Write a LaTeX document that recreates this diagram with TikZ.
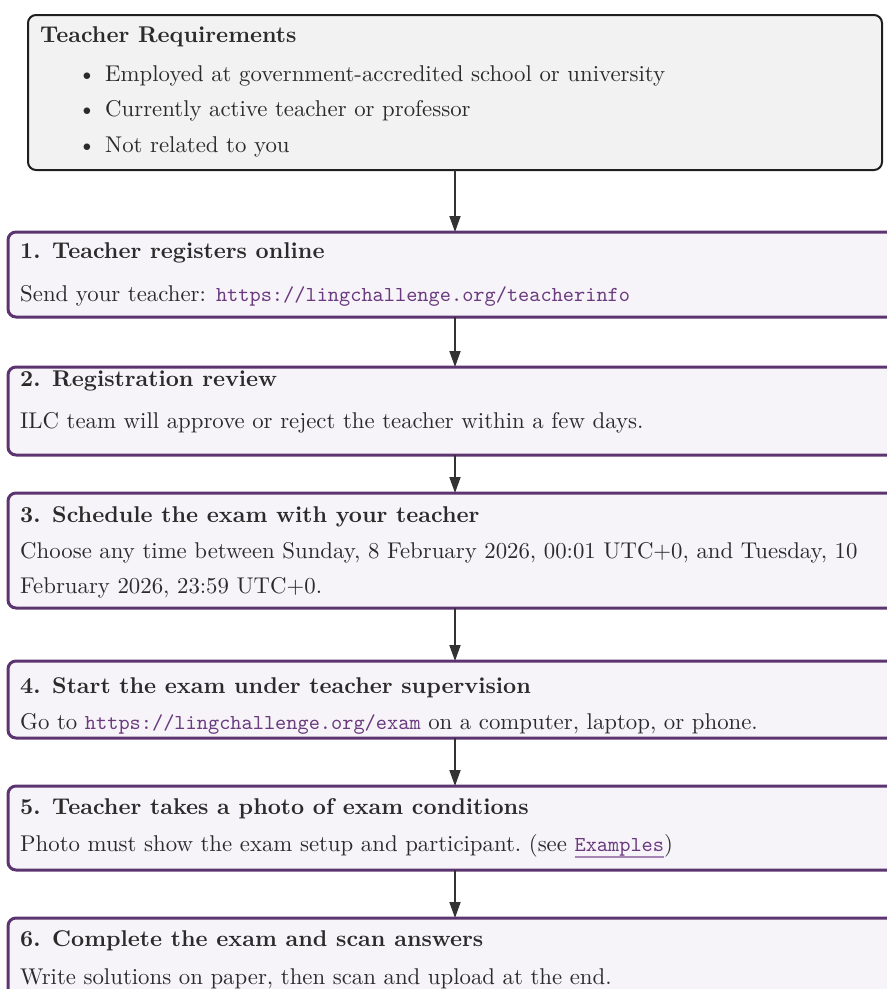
\documentclass[tikz,border=0pt]{standalone}
\usepackage{fontspec}
\setmainfont{lmroman10-regular.otf}[BoldFont=lmroman10-bold.otf, ItalicFont=lmroman10-italic.otf, BoldItalicFont=lmroman10-bolditalic.otf]
\setmonofont{lmmono10-regular.otf}[Scale=0.935]
\usetikzlibrary{arrows.meta}
\definecolor{topborder}{HTML}{1F1F1F}
\definecolor{topfill}{HTML}{F2F2F2}
\definecolor{stepborder}{HTML}{5C3470}
\definecolor{stepfill}{HTML}{F7F4F9}
\definecolor{linkc}{HTML}{6A3A7E}
\definecolor{ulc}{HTML}{A585B5}
\definecolor{txtc}{HTML}{2B2B2B}
\definecolor{arrc}{HTML}{333333}
\newcommand\mainsize{\fontsize{22.8}{27}\selectfont}
\newcommand\lnk[1]{\textcolor{linkc}{\texttt{#1}}}
\newcommand\ulnk[1]{\setbox0\hbox{\texttt{#1}}\rlap{\color{ulc}\rule[-7pt]{\wd0}{1.6pt}}\textcolor{linkc}{\box0}}
\tikzset{
  reqbox/.style={draw=topborder, fill=topfill, line width=2pt, rounded corners=8pt, anchor=north west, inner sep=0pt, outer sep=0pt},
  stepbox/.style={draw=stepborder, fill=stepfill, line width=3pt, rounded corners=8pt, anchor=north west, inner sep=0pt, outer sep=0pt},
  txt/.style={anchor=base west, inner sep=0pt, text=txtc, font=\mainsize},
  arr/.style={draw=arrc, line width=1.8pt, -{Triangle[length=16pt,width=11pt]}}
}
\begin{document}
\begin{tikzpicture}[x=1pt,y=-1pt]
\useasboundingbox (0,0) rectangle (887,989);
\clip (0,0) rectangle (887,989);
\coordinate (ax) at (455,0);
% boxes
\node[reqbox, minimum width=854pt, minimum height=155pt] (top) at (28,15) {};
\node[stepbox, minimum width=900pt, minimum height=85pt] (b1) at (8,232) {};
\node[stepbox, minimum width=900pt, minimum height=88pt] (b2) at (8,367) {};
\node[stepbox, minimum width=900pt, minimum height=115pt] (b3) at (8,493) {};
\node[stepbox, minimum width=900pt, minimum height=77pt] (b4) at (8,661) {};
\node[stepbox, minimum width=900pt, minimum height=84pt] (b5) at (8,786) {};
\node[stepbox, minimum width=900pt, minimum height=100pt] (b6) at (8,918) {};
% top box text
\node[txt] (tt) at (40,42) {\textbf{Teacher Requirements}};
\node[txt] (bu1) at (78,81) {\textbullet};
\node[txt] (r1) at (105,81) {Employed at government-accredited school or university};
\node[txt] (bu2) at (78,116) {\textbullet};
\node[txt] (r2) at (105,116) {Currently active teacher or professor};
\node[txt] (bu3) at (78,152) {\textbullet};
\node[txt] (r3) at (105,152) {Not related to you};
% step texts
\node[txt] (t1) at (20,258) {\textbf{1. Teacher registers online}};
\node[txt] (s1) at (20,301) {Send your teacher: \lnk{https://lingchallenge.org/teacherinfo}};
\node[txt] (t2) at (20,386) {\textbf{2. Registration review}};
\node[txt] (s2) at (20,428) {ILC team will approve or reject the teacher within a few days.};
\node[txt] (t3) at (20,522) {\textbf{3. Schedule the exam with your teacher}};
\node[txt] (s3a) at (20,558) {Choose any time between Sunday, 8 February 2026, 00:01 UTC+0, and Tuesday, 10};
\node[txt] (s3b) at (20,593) {February 2026, 23:59 UTC+0.};
\node[txt] (t4) at (20,693) {\textbf{4. Start the exam under teacher supervision}};
\node[txt] (s4) at (20,729) {Go to \lnk{https://lingchallenge.org/exam} on a computer, laptop, or phone.};
\node[txt] (t5) at (20,814) {\textbf{5. Teacher takes a photo of exam conditions}};
\node[txt] (s5) at (20,851) {Photo must show the exam setup and participant.\ (see \ulnk{Examples})};
\node[txt] (t6) at (20,946) {\textbf{6. Complete the exam and scan answers}};
\node[txt] (s6) at (20,984) {Write solutions on paper, then scan and upload at the end.};
% arrows
\draw[arr] (top.south -| ax) -- (b1.north -| ax);
\draw[arr] (b1.south -| ax) -- (b2.north -| ax);
\draw[arr] (b2.south -| ax) -- (b3.north -| ax);
\draw[arr] (b3.south -| ax) -- (b4.north -| ax);
\draw[arr] (b4.south -| ax) -- (b5.north -| ax);
\draw[arr] (b5.south -| ax) -- (b6.north -| ax);
\end{tikzpicture}
\end{document}
